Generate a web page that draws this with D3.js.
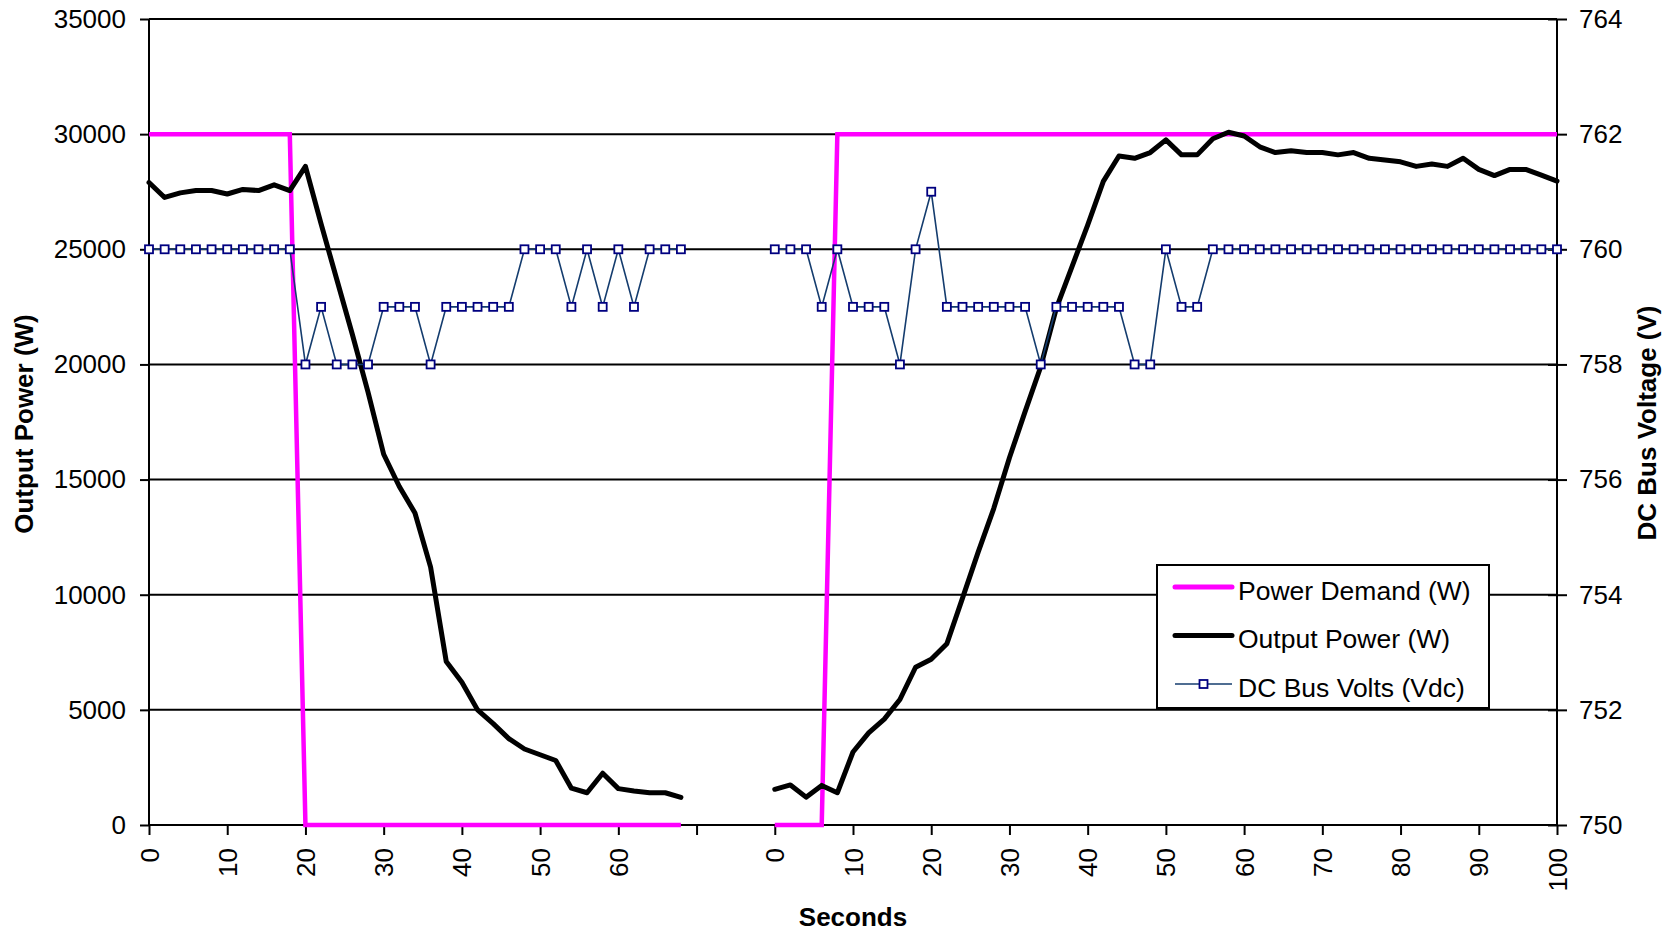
<!DOCTYPE html>
<html>
<head>
<meta charset="utf-8">
<script src="https://cdn.jsdelivr.net/npm/d3@7"></script>
<style>
  html, body { margin: 0; padding: 0; background: #ffffff; }
  svg { display: block; }
  text { font-family: "Liberation Sans", Arial, Helvetica, sans-serif; fill: #000; }
</style>
</head>
<body>
<svg id="chart" width="1675" height="934"></svg>
<script>
// ---------------- DATA ----------------
// Category labels (seconds); two test runs separated by five empty categories
const secondsRun1 = [0,2,4,6,8,10,12,14,16,18,20,22,24,26,28,30,32,34,36,38,40,42,44,46,48,50,52,54,56,58,60,62,64,66,68];
const gapCategories = ["", "", "", "", ""];
const secondsRun2 = [0,2,4,6,8,10,12,14,16,18,20,22,24,26,28,30,32,34,36,38,40,42,44,46,48,50,52,54,56,58,60,62,64,66,68,70,72,74,76,78,80,82,84,86,88,90,92,94,96,98,100];
const categories = [...secondsRun1.map(String), ...gapCategories, ...secondsRun2.map(String)];

// Power Demand (W)
const powerDemand = [
  30000,30000,30000,30000,30000,30000,30000,30000,30000,30000,
  0,0,0,0,0,0,0,0,0,0,0,0,0,0,0,0,0,0,0,0,0,0,0,0,0,
  null,null,null,null,null,
  0,0,0,0,
  30000,30000,30000,30000,30000,30000,30000,30000,30000,30000,30000,30000,30000,30000,30000,30000,
  30000,30000,30000,30000,30000,30000,30000,30000,30000,30000,30000,30000,30000,30000,30000,30000,
  30000,30000,30000,30000,30000,30000,30000,30000,30000,30000,30000,30000,30000,30000,30000
];

// Output Power (W)
const outputPower = [
  27900,27250,27450,27550,27550,27400,27600,27550,27800,27550,
  28600,26100,23700,21300,18800,16100,14700,13550,11200,7100,
  6200,5000,4400,3750,3300,3050,2800,1600,1400,2250,
  1580,1480,1400,1400,1200,
  null,null,null,null,null,
  1550,1740,1210,1720,1400,3170,4000,4600,5450,6850,
  7200,7870,9850,11850,13750,15950,17950,19900,22450,24250,
  26050,27950,29050,28950,29200,29750,29100,29100,29800,30080,
  29920,29450,29200,29280,29200,29200,29100,29200,28950,28880,
  28800,28600,28700,28600,28950,28470,28200,28470,28470,28220,
  27960
];

// DC Bus Volts (Vdc) - secondary axis
const dcBusVolts = [
  760,760,760,760,760,760,760,760,760,760,
  758,759,758,758,758,759,759,759,758,759,
  759,759,759,759,760,760,760,759,760,759,
  760,759,760,760,760,
  null,null,null,null,null,
  760,760,760,759,760,759,759,759,758,760,
  761,759,759,759,759,759,759,758,759,759,
  759,759,759,758,758,760,759,759,760,760,
  760,760,760,760,760,760,760,760,760,760,
  760,760,760,760,760,760,760,760,760,760,
  760
];

const leftTicks = [0,5000,10000,15000,20000,25000,30000,35000];
const rightTicks = [750,752,754,756,758,760,762,764];
const labelEvery = 5;

const seriesNames = ["Power Demand (W)", "Output Power (W)", "DC Bus Volts (Vdc)"];
const xTitle = "Seconds";
const yLeftTitle = "Output Power (W)";
const yRightTitle = "DC Bus Voltage (V)";

// ---------------- LAYOUT ----------------
const plot = { left: 149, right: 1557, top: 19, bottom: 825 };
const FONT = 26;

const svg = d3.select("#chart");
const idx = d3.range(categories.length);

const x = d3.scalePoint().domain(idx).range([plot.left, plot.right]);
const yL = d3.scaleLinear().domain([0, 35000]).range([plot.bottom, plot.top]);
const yR = d3.scaleLinear().domain([750, 764]).range([plot.bottom, plot.top]);

// gridlines
svg.append("g")
  .selectAll("line").data(leftTicks).join("line")
  .attr("x1", plot.left).attr("x2", plot.right)
  .attr("y1", d => yL(d)).attr("y2", d => yL(d))
  .attr("stroke", "#000").attr("stroke-width", 2);

// left axis
const gL = svg.append("g").attr("transform", `translate(${plot.left},0)`)
  .call(d3.axisLeft(yL).tickValues(leftTicks).tickSize(9).tickPadding(14).tickFormat(d3.format("d")));
gL.select(".domain").attr("stroke-width", 2).attr("d", `M0,${plot.top}V${plot.bottom}`);
gL.selectAll(".tick line").attr("stroke-width", 2);
gL.selectAll(".tick text").style("font-size", FONT + "px").style("font-family", null).attr("fill", "#000");

// right axis (ticks cross the axis)
const gR = svg.append("g").attr("transform", `translate(${plot.right},0)`)
  .call(d3.axisRight(yR).tickValues(rightTicks).tickSize(10).tickPadding(12).tickFormat(d3.format("d")));
gR.select(".domain").attr("stroke-width", 2).attr("d", `M0,${plot.top}V${plot.bottom}`);
gR.selectAll(".tick line").attr("x1", -9).attr("stroke-width", 2);
gR.selectAll(".tick text").style("font-size", FONT + "px").style("font-family", null).attr("fill", "#000");

// bottom axis
const gB = svg.append("g").attr("transform", `translate(0,${plot.bottom})`)
  .call(d3.axisBottom(x).tickValues(idx.filter(i => i % labelEvery === 0)).tickSize(10).tickFormat(i => categories[i]));
gB.select(".domain").attr("stroke-width", 2).attr("d", `M${plot.left},0H${plot.right}`);
gB.selectAll(".tick line").attr("stroke-width", 2);
gB.selectAll(".tick text")
  .style("font-size", FONT + "px").style("font-family", null).attr("fill", "#000")
  .attr("text-anchor", "end")
  .attr("y", 0).attr("dy", "0.35em")
  .attr("transform", "translate(0,23) rotate(-90)");

// series lines
const lineL = d3.line().defined(d => d.v != null).x(d => x(d.i)).y(d => yL(d.v));
const lineR = d3.line().defined(d => d.v != null).x(d => x(d.i)).y(d => yR(d.v));
const pd = powerDemand.map((v, i) => ({ i, v }));
const op = outputPower.map((v, i) => ({ i, v }));
const dc = dcBusVolts.map((v, i) => ({ i, v }));

svg.append("path").attr("d", lineL(pd))
  .attr("fill", "none").attr("stroke", "#FF00FF").attr("stroke-width", 4.5)
  .attr("stroke-linejoin", "miter");
svg.append("path").attr("d", lineL(op))
  .attr("fill", "none").attr("stroke", "#000").attr("stroke-width", 5)
  .attr("stroke-linejoin", "round").attr("stroke-linecap", "round");
svg.append("path").attr("d", lineR(dc))
  .attr("fill", "none").attr("stroke", "#143C6E").attr("stroke-width", 1.6);
svg.append("g").selectAll("rect").data(dc.filter(d => d.v != null)).join("rect")
  .attr("x", d => x(d.i) - 4).attr("y", d => yR(d.v) - 4)
  .attr("width", 8).attr("height", 8)
  .attr("fill", "#fff").attr("stroke", "#000080").attr("stroke-width", 1.8);

// axis titles
svg.append("text").attr("x", (plot.left + plot.right) / 2).attr("y", 926)
  .attr("text-anchor", "middle").style("font-size", FONT + "px").style("font-weight", "bold").text(xTitle);
svg.append("text").attr("transform", `translate(33,${(plot.top + plot.bottom) / 2 + 2}) rotate(-90)`)
  .attr("text-anchor", "middle").style("font-size", FONT + "px").style("font-weight", "bold").text(yLeftTitle);
svg.append("text").attr("transform", `translate(1656,${(plot.top + plot.bottom) / 2 + 1}) rotate(-90)`)
  .attr("text-anchor", "middle").style("font-size", FONT + "px").style("font-weight", "bold").text(yRightTitle);

// legend
const lg = svg.append("g").attr("transform", "translate(1157,565)");
lg.append("rect").attr("width", 332).attr("height", 143)
  .attr("fill", "#fff").attr("stroke", "#000").attr("stroke-width", 2);
const rows = [
  { name: seriesNames[0], color: "#FF00FF", w: 5, marker: false },
  { name: seriesNames[1], color: "#000", w: 5, marker: false },
  { name: seriesNames[2], color: "#143C6E", w: 1.6, marker: true }
];
rows.forEach((r, k) => {
  const cy = 22 + k * 48.5;
  lg.append("line").attr("x1", 18).attr("x2", 75).attr("y1", cy).attr("y2", cy)
    .attr("stroke", r.color).attr("stroke-width", r.w).attr("stroke-linecap", r.marker ? "butt" : "round");
  if (r.marker) {
    lg.append("rect").attr("x", 46.5 - 4).attr("y", cy - 4).attr("width", 8).attr("height", 8)
      .attr("fill", "#fff").attr("stroke", "#000080").attr("stroke-width", 1.8);
  }
  lg.append("text").attr("x", 81).attr("y", cy + 12.5)
    .style("font-size", "26.5px").text(r.name);
});
</script>
</body>
</html>
